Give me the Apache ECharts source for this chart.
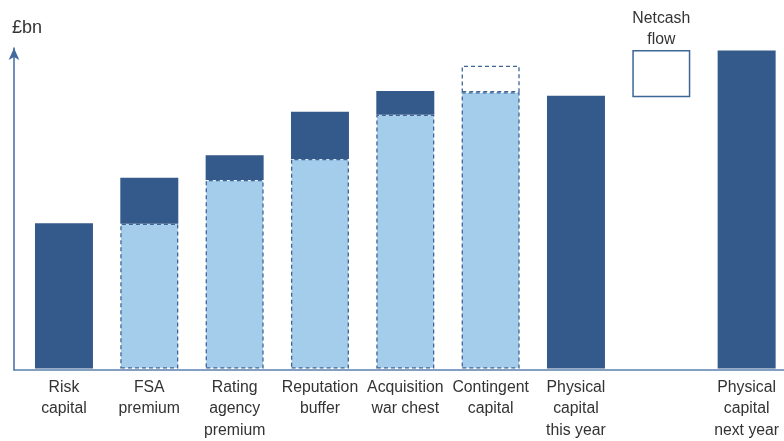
<!DOCTYPE html>
<html>
<head>
<meta charset="utf-8">
<script src="https://cdn.jsdelivr.net/npm/echarts@6/dist/echarts.min.js"></script>
<style>
  html, body { margin: 0; padding: 0; background: #ffffff; overflow: hidden; }
  #chart { width: 792px; height: 441px; }
</style>
</head>
<body>
<div id="chart"></div>
<script>
// Capital build-up, £bn
const categories = [
  'Risk\ncapital',
  'FSA\npremium',
  'Rating\nagency\npremium',
  'Reputation\nbuffer',
  'Acquisition\nwar chest',
  'Contingent\ncapital',
  'Physical\ncapital\nthis year',
  '',
  'Physical\ncapital\nnext year'
];

// Capital already required before each layer (light, dashed outline)
const priorTotal = ['-', 45.2, 58.8, 65.4, 79.2, 86.2, '-', '-', '-'];
// Capital added by each layer (dark)
const addition = [45.3, 14.3, 7.7, 14.7, 7.4, '-', 85.1, '-', 99.2];
// Contingent capital: off-balance-sheet amount (empty dashed box)
const contingentAmount = ['-', '-', '-', '-', '-', 8.3, '-', '-', '-'];
// Net cash flow bridges this year's and next year's physical capital
const netCashStart = ['-', '-', '-', '-', '-', '-', '-', 84.6, '-'];
const netCashFlow = ['-', '-', '-', '-', '-', '-', '-', 14.8, '-'];
const netCashLabel = 'Netcash\nflow';

const DARK = '#335a8a';
const LIGHT = '#a3cdeb';
const EDGE = '#3d6596';
const AXIS = '#3f69a0';
const TEXT = '#333333';
const FONT = 'Liberation Sans, Arial, Helvetica, sans-serif';

const outlineData = categories.map((c, i) => {
  if (contingentAmount[i] !== '-') {
    return {
      value: contingentAmount[i],
      itemStyle: { color: 'rgba(255,255,255,0)', borderColor: EDGE, borderWidth: 1.3, borderType: [4, 3] }
    };
  }
  if (netCashFlow[i] !== '-') {
    return {
      value: netCashFlow[i],
      itemStyle: { color: '#ffffff', borderColor: EDGE, borderWidth: 1.5, borderType: 'solid' },
      label: {
        show: true, position: 'top', distance: 0, formatter: netCashLabel,
        fontFamily: FONT, fontSize: 15.8, lineHeight: 20.7, color: TEXT
      }
    };
  }
  return '-';
});

// The canvas is slightly wider than the window so the last band keeps full width
const chart = echarts.init(document.getElementById('chart'), null, { renderer: 'canvas' });
chart.setOption({
  animation: false,
  backgroundColor: '#ffffff',
  textStyle: { fontFamily: FONT },
  grid: [
    { left: 21.3, right: 2.7, top: 48, bottom: 71 },
    { left: 14, right: 8, top: 48, bottom: 71 }
  ],
  xAxis: [
    {
      type: 'category', gridIndex: 0, data: categories,
      axisLine: { show: false }, axisTick: { show: false },
      axisLabel: {
        interval: 0, margin: 8, color: TEXT, fontFamily: FONT,
        fontSize: 15.8, lineHeight: 21.5, verticalAlign: 'top'
      },
      splitLine: { show: false }
    },
    {
      type: 'value', gridIndex: 1, min: 0, max: 1,
      axisLine: { show: true, lineStyle: { color: '#5b80ad', width: 1.5 } },
      axisTick: { show: false }, axisLabel: { show: false }, splitLine: { show: false }
    }
  ],
  yAxis: [
    { type: 'value', gridIndex: 0, min: 0, max: 100, show: false },
    {
      type: 'value', gridIndex: 1, min: 0, max: 100,
      name: '£bn', nameLocation: 'end', nameGap: 11,
      nameTextStyle: { align: 'left', padding: [0, 0, 0, -2], fontSize: 18, color: TEXT, fontFamily: FONT },
      axisLine: {
        show: true, symbol: ['none', 'arrow'], symbolSize: [8, 12],
        lineStyle: { color: AXIS, width: 1.5 }
      },
      axisTick: { show: false }, axisLabel: { show: false }, splitLine: { show: false }
    }
  ],
  series: [
    {
      name: 'Prior total', type: 'bar', stack: 'cap', barWidth: 58,
      data: priorTotal,
      itemStyle: { color: LIGHT, borderColor: EDGE, borderWidth: 1.3, borderType: [4, 3] }
    },
    {
      name: 'Net cash base', type: 'bar', stack: 'cap', barWidth: 58,
      data: netCashStart,
      itemStyle: { color: 'rgba(0,0,0,0)' }
    },
    {
      name: 'Addition', type: 'bar', stack: 'cap', barWidth: 58,
      data: addition,
      itemStyle: { color: DARK }
    },
    {
      name: 'Outline', type: 'bar', stack: 'cap', barWidth: 58,
      data: outlineData
    }
  ]
});
</script>
</body>
</html>
